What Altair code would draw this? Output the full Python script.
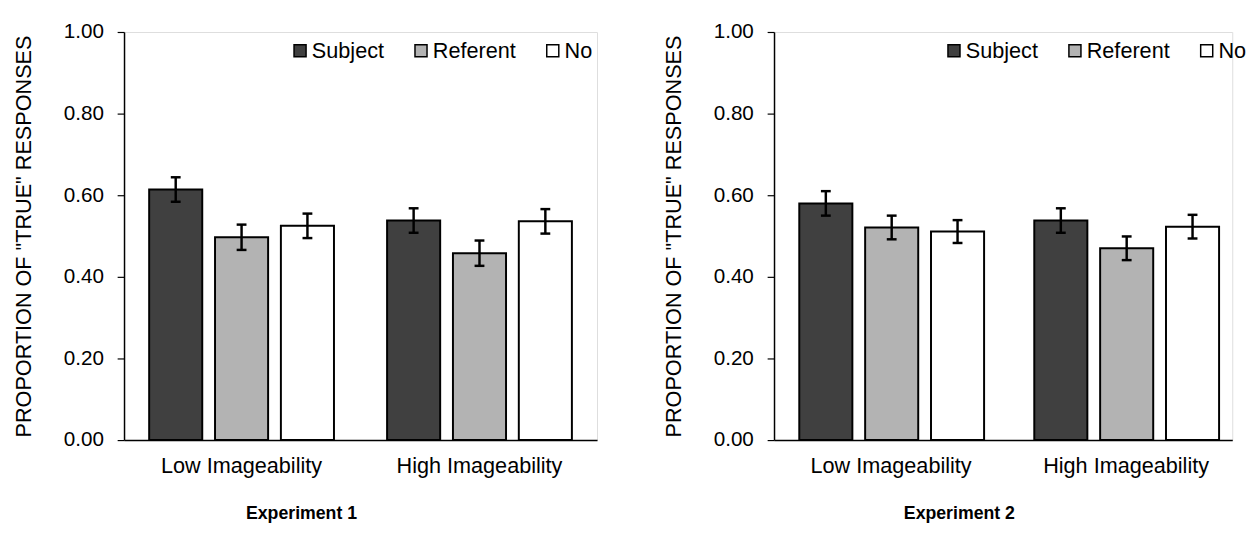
import altair as alt
import pandas as pd

groups = ["Low Imageability", "High Imageability"]
conditions = ["Subject", "Referent", "No"]
colors = ["#404040", "#b3b3b3", "#ffffff"]

exp1_low = [0.614, 0.497, 0.525]
exp1_low_err = [0.030, 0.031, 0.030]
exp1_high = [0.538, 0.458, 0.536]
exp1_high_err = [0.030, 0.031, 0.030]

exp2_low = [0.580, 0.521, 0.511]
exp2_low_err = [0.030, 0.029, 0.028]
exp2_high = [0.538, 0.470, 0.523]
exp2_high_err = [0.030, 0.029, 0.029]


def build_df(low, low_err, high, high_err):
    rows = []
    for g, vals, errs in [(groups[0], low, low_err), (groups[1], high, high_err)]:
        for c, v, e in zip(conditions, vals, errs):
            rows.append({"group": g, "cond": c, "value": v, "lo": v - e, "hi": v + e})
    return pd.DataFrame(rows)


FONT = "Liberation Sans"


def panel(df, title, width, p_inner, p_outer, align, legend_x, title_x):
    x = alt.X(
        "group:N",
        sort=groups,
        scale=alt.Scale(paddingInner=p_inner, paddingOuter=p_outer, align=align),
        axis=alt.Axis(
            title=title, labelAngle=0, ticks=False, labelFontSize=22, labelFont=FONT,
            labelColor="#000", labelPadding=16, titleFontSize=18, titleFontWeight="bold",
            titleFont=FONT, titleColor="#000", titlePadding=29, titleX=title_x,
            domainColor="#000", domainWidth=1.5,
        ),
    )
    xo = alt.XOffset("cond:N", sort=conditions,
                     scale=alt.Scale(paddingInner=0.194, paddingOuter=0.042))
    y = alt.Y(
        "value:Q",
        scale=alt.Scale(domain=[0, 1], nice=False),
        axis=alt.Axis(
            title='PROPORTION OF "TRUE" RESPONSES', values=[0, 0.2, 0.4, 0.6, 0.8, 1.0],
            format=".2f", grid=False, tickSize=7, tickColor="#000", tickWidth=1.2,
            labelFontSize=21, labelFont=FONT, labelColor="#000", labelPadding=14,
            titleFontSize=22, titleFont=FONT, titleFontWeight="normal", titleColor="#000",
            titlePadding=28, domainColor="#000", domainWidth=1.5,
        ),
    )
    color = alt.Color(
        "cond:N", sort=conditions,
        scale=alt.Scale(domain=conditions, range=colors),
        legend=alt.Legend(
            title=None, orient="none", legendX=legend_x, legendY=8, direction="horizontal",
            symbolType="square", symbolSize=150, symbolStrokeColor="#000",
            symbolStrokeWidth=1.5, symbolOpacity=1, labelFontSize=22, labelFont=FONT,
            labelColor="#000", labelOffset=1, columnPadding=26,
        ),
    )
    base = alt.Chart(df)
    bars = base.mark_bar(stroke="#000", strokeWidth=2).encode(
        x=x, xOffset=xo, y=y, fill=color
    )
    rules = base.mark_rule(color="#000", strokeWidth=2.5).encode(
        x=alt.X("group:N", sort=groups), xOffset=alt.XOffset("cond:N", sort=conditions),
        y="lo:Q", y2="hi:Q"
    )
    cap_lo = base.mark_tick(color="#000", thickness=2.5, size=10, opacity=1).encode(
        x=alt.X("group:N", sort=groups), xOffset=alt.XOffset("cond:N", sort=conditions),
        y="lo:Q"
    )
    cap_hi = base.mark_tick(color="#000", thickness=2.5, size=10, opacity=1).encode(
        x=alt.X("group:N", sort=groups), xOffset=alt.XOffset("cond:N", sort=conditions),
        y="hi:Q"
    )
    return alt.layer(bars, rules, cap_lo, cap_hi).properties(width=width, height=415)


df1 = build_df(exp1_low, exp1_low_err, exp1_high, exp1_high_err)
df2 = build_df(exp2_low, exp2_low_err, exp2_high, exp2_high_err)

left = panel(df1, "Experiment 1", 481, 0.2, 0.094, 0.5, 168, 180)
right = panel(df2, "Experiment 2", 466, 0.195, 0.0725, 0.66, 172, 188)

chart = (
    alt.hconcat(left, right, spacing=65)
    .resolve_scale(fill="independent", x="independent", y="independent")
    .resolve_legend(fill="independent")
    .properties(padding={"left": 4, "top": 8, "right": 0, "bottom": 0})
    .configure_view(strokeWidth=0)
    .configure(font=FONT)
)

chart.save("out.html", embed_options={"renderer": "svg", "actions": False})
